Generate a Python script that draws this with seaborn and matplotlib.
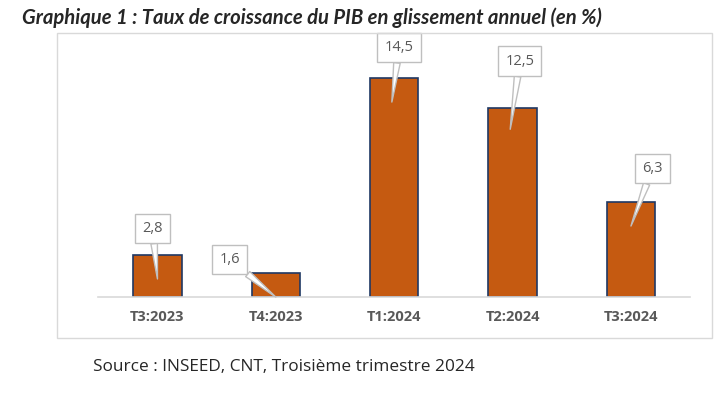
import matplotlib
matplotlib.use("Agg")
import matplotlib.pyplot as plt
from matplotlib.patches import Rectangle
import seaborn as sns
import pandas as pd

# data
quarters = ["T3:2023", "T4:2023", "T1:2024", "T2:2024", "T3:2024"]
growth = [2.8, 1.6, 14.5, 12.5, 6.3]
labels = ["2,8", "1,6", "14,5", "12,5", "6,3"]

# callout placement (box offset from bar centre, tip height)
box_dx = [-0.04, -0.39, 0.04, 0.06, 0.18]
box_y = [4.55, 2.5, 16.5, 15.6, 8.5]
tip_dx = [0.0, 0.0, -0.02, -0.02, 0.0]
tip_y = [1.2, 0.0, 12.9, 11.1, 4.7]

sns.set_style("white")
plt.rcParams["font.family"] = ["Open Sans", "DejaVu Sans"]

df = pd.DataFrame({"quarter": quarters, "growth": growth})

fig = plt.figure(figsize=(7.28, 3.93), dpi=100)
ax = fig.add_axes([0.135, 0.244, 0.813, 0.654])

# chart frame
fig.patches.append(Rectangle((57 / 728, 1 - 338 / 393), 655 / 728, 305 / 393,
                             transform=fig.transFigure, fill=False,
                             ec="#d9d9d9", lw=1.0))

sns.barplot(data=df, x="quarter", y="growth", color="#C55A11", saturation=1,
            width=0.41, edgecolor="#1F3864", linewidth=1.2, ax=ax)

ax.set_ylim(0, 17)
ax.set_xlim(-0.5, 4.5)
ax.set_yticks([])
ax.set_xlabel("")
ax.set_ylabel("")
for s in ["top", "right", "left"]:
    ax.spines[s].set_visible(False)
ax.spines["bottom"].set_color("#d9d9d9")
ax.spines["bottom"].set_linewidth(1.2)
ax.tick_params(axis="x", length=0, pad=9)
for t in ax.get_xticklabels():
    t.set_fontweight("bold")
    t.set_color("#595959")
    t.set_fontsize(10.5)

for i in range(len(growth)):
    ax.annotate(labels[i], xy=(i + tip_dx[i], tip_y[i]),
                xytext=(i + box_dx[i], box_y[i]),
                ha="center", va="center", fontsize=10.5, color="#595959",
                bbox=dict(boxstyle="square,pad=0.5", fc="white", ec="#bfbfbf", lw=1),
                arrowprops=dict(arrowstyle="wedge,tail_width=0.45", fc="white",
                                ec="#bfbfbf", lw=1, shrinkA=0, shrinkB=0),
                zorder=5)

fig.text(22 / 728, 1 - 18 / 393,
         "Graphique 1 : Taux de croissance du PIB en glissement annuel (en %)",
         fontsize=14.6, fontweight="bold", style="italic", va="center", ha="left",
         family=["Lato", "DejaVu Sans"])
fig.text(93 / 728, 1 - 367 / 393, "Source : INSEED, CNT, Troisième trimestre 2024",
         fontsize=12.4, va="center", ha="left")

fig.savefig("out.png", dpi=100)
